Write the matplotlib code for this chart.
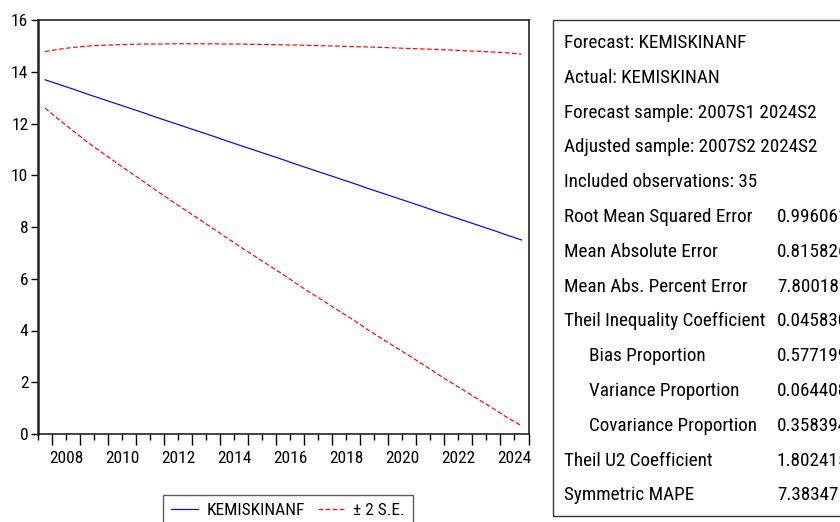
#!/usr/bin/env python3
"""EViews-style forecast graph: KEMISKINANF with +/- 2 S.E. band and forecast stats."""
import matplotlib
matplotlib.use("Agg")
import matplotlib.pyplot as plt
from matplotlib.patches import Rectangle
from matplotlib.ticker import FixedLocator, FixedFormatter

OUT_PNG = "out.png"

# semiannual periods 2007S2 .. 2024S2 (plotted at period midpoints)
YEARS = [2007 + (i + 1) // 2 for i in range(35)]
HALVES = [2 if i % 2 == 0 else 1 for i in range(35)]

FORECAST = [13.69, 13.51, 13.33, 13.14, 12.96, 12.78, 12.60, 12.42, 12.23, 12.05,
            11.87, 11.69, 11.51, 11.32, 11.14, 10.96, 10.78, 10.60, 10.41, 10.23,
            10.05, 9.87, 9.69, 9.50, 9.32, 9.14, 8.96, 8.78, 8.59, 8.41,
            8.23, 8.05, 7.87, 7.68, 7.50]
UPPER = [14.78, 14.87, 14.94, 14.99, 15.02, 15.04, 15.06, 15.07, 15.07, 15.08,
         15.08, 15.08, 15.08, 15.07, 15.07, 15.06, 15.05, 15.04, 15.03, 15.02,
         15.00, 14.99, 14.97, 14.96, 14.94, 14.92, 14.90, 14.88, 14.86, 14.84,
         14.81, 14.79, 14.76, 14.73, 14.68]
LOWER = [12.60, 12.15, 11.72, 11.29, 10.90, 10.52, 10.14, 9.77, 9.39, 9.02,
         8.66, 8.30, 7.94, 7.57, 7.21, 6.86, 6.51, 6.16, 5.79, 5.44,
         5.10, 4.75, 4.41, 4.04, 3.70, 3.36, 3.02, 2.68, 2.32, 1.98,
         1.65, 1.31, 0.98, 0.63, 0.32]

YEAR_LABELS = ["2008", "2010", "2012", "2014", "2016", "2018", "2020", "2022", "2024"]
Y_TICKS = [0, 2, 4, 6, 8, 10, 12, 14, 16]

HEADER_LINES = [
    "Forecast: KEMISKINANF",
    "Actual: KEMISKINAN",
    "Forecast sample: 2007S1 2024S2",
    "Adjusted sample: 2007S2 2024S2",
    "Included observations: 35",
]
STAT_NAMES = [
    "Root Mean Squared Error",
    "Mean Absolute Error",
    "Mean Abs. Percent Error",
    "Theil Inequality Coefficient",
    "Bias Proportion",
    "Variance Proportion",
    "Covariance Proportion",
    "Theil U2 Coefficient",
    "Symmetric MAPE",
]
STAT_INDENT = [0, 0, 0, 0, 1, 1, 1, 0, 0]
STAT_VALUES = ["0.996061", "0.815826", "7.800189", "0.045830", "0.577199",
               "0.064408", "0.358394", "1.802415", "7.383471"]

FONT = ["Roboto Condensed", "Liberation Sans", "DejaVu Sans"]


def main():
    plt.rcParams["font.family"] = FONT
    W, H = 840, 522
    fig = plt.figure(figsize=(W / 100, H / 100), dpi=100)

    # axes placed in pixel coords
    left, right, top, bottom = 38, 528.5, 20, 434
    ax = fig.add_axes([left / W, (H - bottom) / H, (right - left) / W, (bottom - top) / H])

    x = [y + (0.25 if h == 1 else 0.75) for y, h in zip(YEARS, HALVES)]
    ax.plot(x, FORECAST, color="#0000ff", lw=0.85, label="KEMISKINANF")
    ax.plot(x, UPPER, color="#ff0000", lw=0.85, dashes=(4, 2), label="\u00b1 2 S.E.")
    ax.plot(x, LOWER, color="#ff0000", lw=0.85, dashes=(4, 2))

    ax.set_xlim(2007.5, 2025.0)
    ax.set_ylim(0, 16)

    ax.set_yticks(Y_TICKS)
    ax.set_yticklabels([str(v) for v in Y_TICKS])
    ax.tick_params(axis="y", direction="out", length=5, width=1, labelsize=12.5, pad=2)

    # long ticks at year boundaries, short ticks mid-year carrying the labels
    ax.xaxis.set_major_locator(FixedLocator(list(range(2008, 2026))))
    ax.xaxis.set_major_formatter(FixedFormatter([""] * 18))
    mids = [2007.5 + k for k in range(18)]
    mid_labels = [""] * 18
    for lab in YEAR_LABELS:
        mid_labels[int(lab) - 2007] = lab
    ax.xaxis.set_minor_locator(FixedLocator(mids))
    ax.xaxis.set_minor_formatter(FixedFormatter(mid_labels))
    ax.tick_params(axis="x", which="major", direction="out", length=8, width=1)
    ax.tick_params(axis="x", which="minor", direction="out", length=4.5, width=1,
                   labelsize=12.5, pad=7.5)

    for sp in ax.spines.values():
        sp.set_color("#222222")
        sp.set_linewidth(1.2)
    ax.spines["left"].set_linewidth(1.8)

    leg = fig.legend(loc="upper left", bbox_to_anchor=(163 / W, (H - 495) / H),
                     ncol=2, frameon=True, fancybox=False, shadow=False,
                     fontsize=12.5, handlelength=1.55, handletextpad=0.5,
                     columnspacing=0.75, borderpad=0.45, borderaxespad=0)
    leg.get_frame().set_edgecolor("#333333")
    leg.get_frame().set_linewidth(1.0)

    # stats table box (right side cut by figure edge)
    fig.patches.append(Rectangle((553 / W, (H - 516) / H), 400 / W, 496 / H,
                                 transform=fig.transFigure, fill=False,
                                 edgecolor="#333333", lw=1.0))
    row_y = [43 + 34.8 * k for k in range(14)]
    fs = 13.8
    for k, line in enumerate(HEADER_LINES):
        fig.text(564 / W, (H - row_y[k]) / H, line, fontsize=fs, va="center")
    for k, (name, val) in enumerate(zip(STAT_NAMES, STAT_VALUES)):
        yy = (H - row_y[k + 5]) / H
        fig.text((564 + 25 * STAT_INDENT[k]) / W, yy, name, fontsize=fs, va="center")
        fig.text(777 / W, yy, val, fontsize=fs, va="center")

    fig.savefig(OUT_PNG, dpi=100)


if __name__ == "__main__":
    main()
